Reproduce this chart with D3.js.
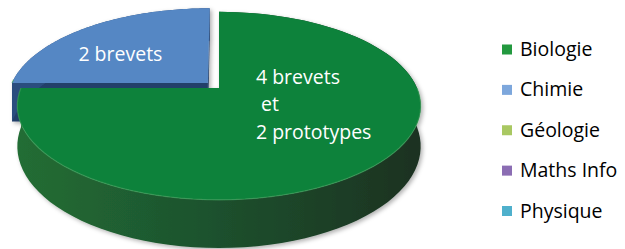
<!DOCTYPE html>
<html>
<head>
<meta charset="utf-8">
<script src="https://cdn.jsdelivr.net/npm/d3@7"></script>
<style>
  html, body { margin: 0; padding: 0; background: #fff; }
  svg { display: block; }
</style>
</head>
<body>
<script>
// data
const categories = ["Biologie", "Chimie", "Géologie", "Maths Info", "Physique"];
const values = [6, 2, 0, 0, 0];
const sliceLabels = [["4 brevets", " et", "2 prototypes"], ["2 brevets"], [], [], []];
const topColors = ["#0e823b", "#5587c4", "#9bbb59", "#8064a2", "#4bacc6"];
const legendColors = ["#23993f", "#7da7dc", "#a9c862", "#8b6db3", "#4fb0cc"];

const width = 625, height = 249;

// 3d pie geometry (perspective projection of a unit disc)
const cx = 219, cy = 88, A = 198, B = 90.6, k = 0.19, depth = 39;
const explodeBy = { Chimie: 0.08 };
const labelShift = { Biologie: [0, -27], Chimie: [-9, 7] };

const svg = d3.select("body").append("svg")
  .attr("width", width)
  .attr("height", height);

const defs = svg.append("defs");
const sideGrad = defs.append("linearGradient")
  .attr("id", "greenSide")
  .attr("gradientUnits", "userSpaceOnUse")
  .attr("x1", 20).attr("x2", 422).attr("y1", 0).attr("y2", 0);
sideGrad.append("stop").attr("offset", 0).attr("stop-color", "#226d34");
sideGrad.append("stop").attr("offset", 0.5).attr("stop-color", "#1d502d");
sideGrad.append("stop").attr("offset", 1).attr("stop-color", "#1a3121");

const shadow = defs.append("filter").attr("id", "shadow")
  .attr("x", "-10%").attr("y", "-10%").attr("width", "120%").attr("height", "130%");
shadow.append("feDropShadow")
  .attr("dx", 2).attr("dy", 2).attr("stdDeviation", 2)
  .attr("flood-color", "#000").attr("flood-opacity", 0.3);

function proj(X, Z, down) {
  const w = 1 - k * Z;
  return [cx + A * X / w, cy + B * Z / w + (down ? depth / w : 0)];
}

const pie = d3.pie().sort(null).value(d => d);
const arcs = pie(values).map((a, i) => ({ ...a, name: categories[i], i }))
  .filter(a => a.value > 0);

const line = d3.line();
const steps = 90;

function slicePaths(a) {
  const t0 = a.startAngle - Math.PI / 2, t1 = a.endAngle - Math.PI / 2;
  const mid = (t0 + t1) / 2;
  const e = explodeBy[a.name] || 0;
  const ex = e * Math.cos(mid), ez = e * Math.sin(mid);
  const ts = d3.range(steps + 1).map(s => t0 + (t1 - t0) * s / steps);
  const rim = down => ts.map(t => proj(Math.cos(t) + ex, Math.sin(t) + ez, down));
  const c = down => proj(ex, ez, down);
  const edge = (t, down) => proj(Math.cos(t) + ex, Math.sin(t) + ez, down);
  return {
    top: line([c(false), ...rim(false)]) + "Z",
    side: line([...rim(false), ...rim(true).reverse()]) + "Z",
    faces: [t0, t1].map(t => line([c(false), edge(t, false), edge(t, true), c(true)]) + "Z"),
    front: line(ts.filter(t => Math.sin(t) > -0.05).map(t => proj(Math.cos(t) + ex, Math.sin(t) + ez, false))),
    ex, ez, mid
  };
}

const sideColors = { Biologie: "url(#greenSide)", Chimie: "#2c4d7e" };
const faceColors = { Biologie: "#1d5a2e", Chimie: "#233f69" };

const g = svg.append("g").attr("filter", "url(#shadow)");

// draw back slices first
const order = arcs.slice().sort((p, q) => {
  const zp = Math.sin((p.startAngle + p.endAngle) / 2 - Math.PI / 2);
  const zq = Math.sin((q.startAngle + q.endAngle) / 2 - Math.PI / 2);
  return zp - zq;
});

order.forEach(a => {
  const p = slicePaths(a);
  const sg = g.append("g");
  sg.selectAll("path.face").data(p.faces).join("path")
    .attr("class", "face")
    .attr("d", d => d)
    .attr("fill", faceColors[a.name]);
  sg.append("path").attr("d", p.side).attr("fill", sideColors[a.name]);
  sg.append("path").attr("d", p.top).attr("fill", topColors[a.i]);
  sg.append("path").attr("d", p.front)
    .attr("fill", "none")
    .attr("stroke", "#3fa05c")
    .attr("stroke-opacity", 0.6)
    .attr("stroke-width", 1.2);
});

// slice labels
arcs.forEach(a => {
  const p = slicePaths(a);
  const r = 0.62;
  const [lx, ly] = proj(r * Math.cos(p.mid) + p.ex, r * Math.sin(p.mid) + p.ez, false);
  const [sx, sy] = labelShift[a.name] || [0, 0];
  const lines = sliceLabels[a.i];
  const lh = 27.5;
  const t = svg.append("text")
    .attr("font-family", "'Open Sans', sans-serif")
    .attr("font-size", 19.5)
    .attr("fill", "#fff")
    .attr("xml:space", "preserve")
    .style("white-space", "pre");
  lines.forEach((s, j) => {
    t.append("tspan").attr("y", ly + sy + (j - (lines.length - 1) / 2) * lh + 7).text(s);
  });
  const bw = d3.max(t.selectAll("tspan").nodes(), n => n.getComputedTextLength());
  t.selectAll("tspan").attr("x", lx + sx - bw / 2);
});

// legend
const ly = d3.scalePoint().domain(categories).range([49.5, 211]);
const legend = svg.append("g").selectAll("g").data(categories).join("g")
  .attr("transform", d => `translate(502,${ly(d)})`);
legend.append("rect")
  .attr("x", 0).attr("y", -5).attr("width", 10).attr("height", 10)
  .attr("fill", (d, i) => legendColors[i]);
legend.append("text")
  .attr("x", 18).attr("y", 6.5)
  .attr("font-family", "'Open Sans', sans-serif")
  .attr("font-size", 19.5)
  .attr("fill", "#000")
  .text(d => d);
</script>
</body>
</html>
